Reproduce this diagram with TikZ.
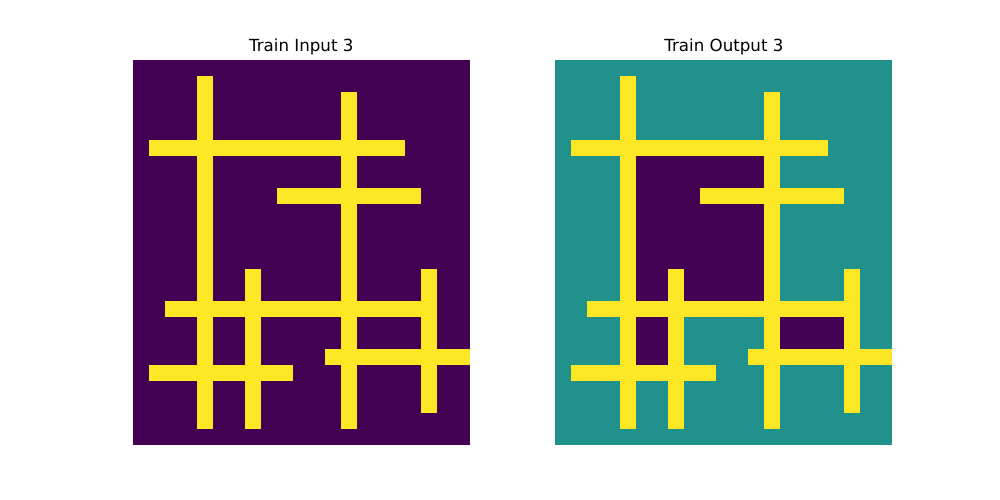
\documentclass[tikz,border=0pt]{standalone}
\usepackage{fontspec}
\setmainfont{DejaVu Sans}
\definecolor{vpurple}{HTML}{440154}
\definecolor{vteal}{HTML}{21918C}
\definecolor{vyellow}{HTML}{FDE725}
\tikzset{
  ttl/.style={anchor=base, inner sep=0pt, font=\fontsize{16.67}{20}\selectfont},
  bar/.style={fill=vyellow, draw=none},
}
\newcommand\yellowbars{%
  \path[bar] (4,1) rectangle (5,23);
  \path[bar] (13,2) rectangle (14,23);
  \path[bar] (7,13) rectangle (8,23);
  \path[bar] (18,13) rectangle (19,22);
  \path[bar] (1,5) rectangle (17,6);
  \path[bar] (9,8) rectangle (18,9);
  \path[bar] (2,15) rectangle (19,16);
  \path[bar] (12,18) rectangle (21,19);
  \path[bar] (1,19) rectangle (10,20);
}
\begin{document}
\begin{tikzpicture}[x=1pt,y=-1pt]
\useasboundingbox (0,0) rectangle (1000,500);
\fill[white] (0,0) rectangle (1000,500);
% left panel
\begin{scope}[shift={(132.6,60)}, x=16.043pt, y=-16.042pt]
  \fill[vpurple] (0,0) rectangle (21,24);
  \yellowbars
\end{scope}
% right panel
\begin{scope}[shift={(555.4,60)}, x=16.043pt, y=-16.042pt]
  \fill[vteal] (0,0) rectangle (21,24);
  \fill[vpurple] (5,6) rectangle (13,15);
  \fill[vpurple] (14,16) rectangle (18,18);
  \fill[vpurple] (5,16) rectangle (7,19);
  \yellowbars
\end{scope}
\node[ttl] (t1) at (301.3,51.7) {Train Input 3};
\node[ttl] (t2) at (723.9,51.7) {Train Output 3};
\end{tikzpicture}
\end{document}
